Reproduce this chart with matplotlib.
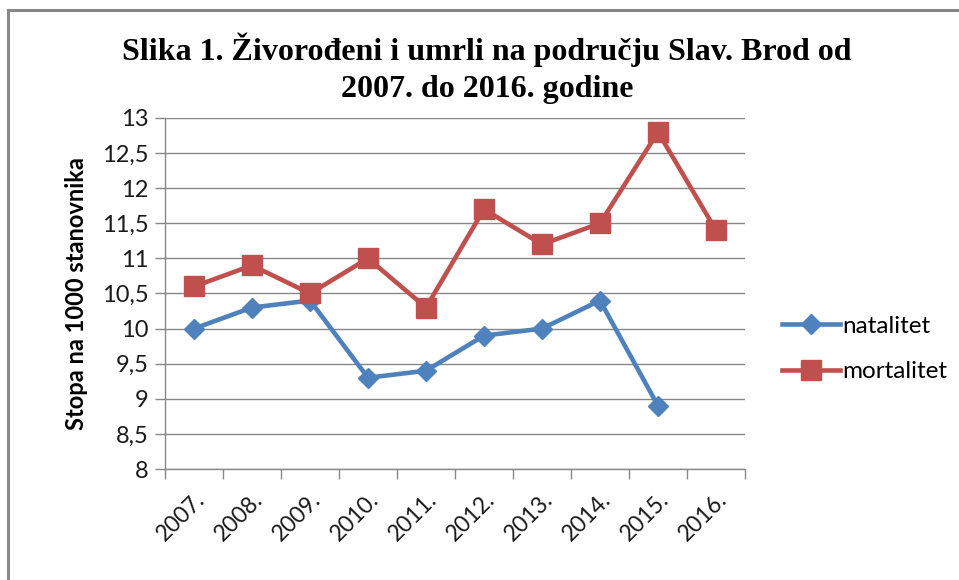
import numpy as np
import matplotlib.pyplot as plt
from matplotlib.lines import Line2D

# data
years = ['2007.', '2008.', '2009.', '2010.', '2011.', '2012.', '2013.', '2014.', '2015.', '2016.']
natalitet = [10.0, 10.3, 10.4, 9.3, 9.4, 9.9, 10.0, 10.4, 8.9, np.nan]
mortalitet = [10.6, 10.9, 10.5, 11.0, 10.3, 11.7, 11.2, 11.5, 12.8, 11.4]
yticks = [8, 8.5, 9, 9.5, 10, 10.5, 11, 11.5, 12, 12.5, 13]

blue = '#4F81BD'
red = '#C0504D'
grid_col = '#878787'
tick_font = 'Lato'

W, H = 959, 580
fig = plt.figure(figsize=(W / 100, H / 100), dpi=100)
ax = fig.add_axes([165 / W, 1 - 469 / H, (745 - 165) / W, (469 - 118) / H])

x = np.arange(len(years))
ax.plot(x, natalitet, color=blue, lw=3.3, marker='D', ms=10.5, label='natalitet', zorder=3)
ax.plot(x, mortalitet, color=red, lw=3.3, marker='s', ms=14.5, label='mortalitet', zorder=3)

ax.set_xlim(-0.5, len(years) - 0.5)
ax.set_ylim(8, 13)
ax.set_yticks(yticks)
ax.set_yticklabels([f'{v:g}'.replace('.', ',') for v in yticks],
                   fontsize=17, family=tick_font, color='#1a1a1a')
ax.yaxis.grid(True, color=grid_col, lw=1)
ax.set_axisbelow(True)

# category labels in the middle, tick marks on the boundaries
ax.set_xticks(x)
ax.set_xticklabels(years, rotation=45, ha='right', rotation_mode='anchor',
                   fontsize=16.5, family=tick_font, color='#1a1a1a')
ax.set_xticks(np.arange(-0.5, len(years)), minor=True)
ax.tick_params(axis='x', which='major', length=0, pad=14)
ax.tick_params(axis='x', which='minor', length=7, color=grid_col, width=1)
ax.tick_params(axis='y', length=7, color=grid_col, width=1, pad=5)

for s in ['top', 'right']:
    ax.spines[s].set_visible(False)
for s in ['left', 'bottom']:
    ax.spines[s].set_color(grid_col)
    ax.spines[s].set_linewidth(1)

ax.set_ylabel('Stopa na 1000 stanovnika', fontsize=17, fontweight='bold',
              family=tick_font, labelpad=10)

fig.text(487 / W, 1 - 50 / H, 'Slika 1. Živorođeni i umrli na području Slav. Brod od',
         ha='center', va='center', fontsize=23, fontweight='bold', family='Liberation Serif')
fig.text(487 / W, 1 - 90 / H, '2007. do 2016. godine',
         ha='center', va='center', fontsize=23, fontweight='bold', family='Liberation Serif')

leg = fig.legend(loc='center left', bbox_to_anchor=(760 / W, 1 - 349 / H),
                 frameon=False, handlelength=2.4, handletextpad=0.1,
                 labelspacing=1.0, prop={'family': tick_font, 'size': 17.5})

# the grey frame on the left and top of the chart
fig.add_artist(Line2D([8 / W, 8 / W], [0, 1 - 10 / H], color='#888888', lw=2.2))
fig.add_artist(Line2D([8 / W, 1], [1 - 10 / H, 1 - 10 / H], color='#888888', lw=2.2))

fig.savefig('out.png', dpi=100)
